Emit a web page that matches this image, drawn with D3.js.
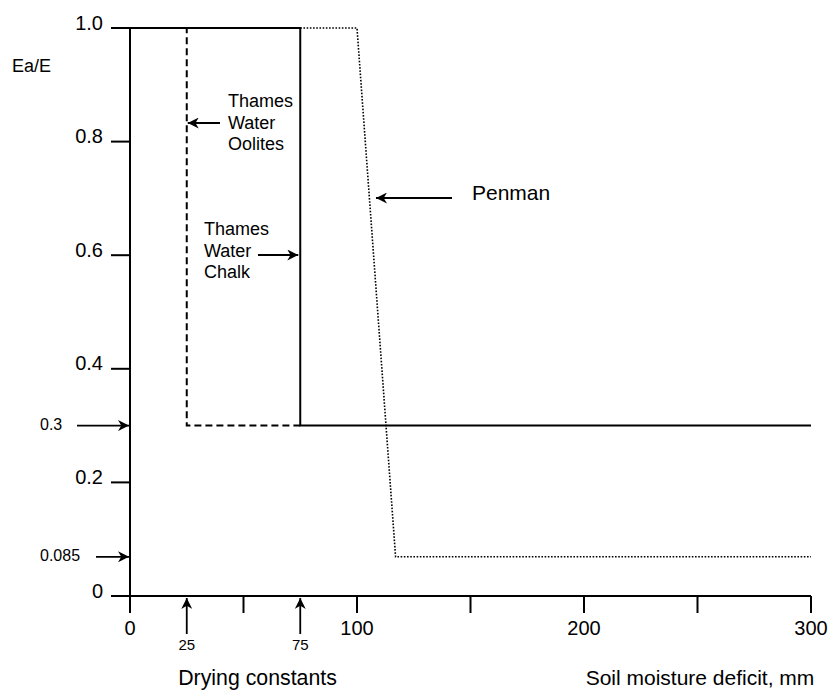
<!DOCTYPE html>
<html><head><meta charset="utf-8">
<script src="https://cdn.jsdelivr.net/npm/d3@7"></script>
<style>body{margin:0;background:#fff}text{font-family:Arial,"Liberation Sans",sans-serif;fill:#000}</style>
</head><body><svg id="c" width="832" height="696"></svg>
<script>
// ---- data ----
const yTicks = [0, 0.2, 0.4, 0.6, 0.8, 1.0];
const yTickLabels = ["0", "0.2", "0.4", "0.6", "0.8", "1.0"];
const xTicks = [0, 50, 100, 150, 200, 250, 300];
const xTickLabels = ["0", "100", "200", "300"];
const xLabelValues = [0, 100, 200, 300];
const dryingConstants = [25, 75];
const dryingLabels = ["25", "75"];
const yMarkers = [0.3, 0.069];
const yMarkerLabels = ["0.3", "0.085"];
const chalkX = [0, 75, 75, 300];
const chalkY = [1.0, 1.0, 0.3, 0.3];
const oolitesX = [0, 25, 25, 75];
const oolitesY = [1.0, 1.0, 0.3, 0.3];
const penmanX = [75, 100, 117, 300];
const penmanY = [1.0, 1.0, 0.069, 0.069];

const svg = d3.select("#c");
const x = d3.scaleLinear().domain([0, 300]).range([130, 811]);
const y = d3.scaleLinear().domain([0, 1]).range([596, 28]);
const line = d3.line().x(d => x(d[0])).y(d => y(d[1]));

// axes lines
svg.append("line").attr("x1", x(0)).attr("x2", x(0)).attr("y1", y(1)).attr("y2", 613).attr("stroke", "#000").attr("stroke-width", 2);
svg.append("line").attr("x1", 112).attr("x2", x(300)).attr("y1", y(0)).attr("y2", y(0)).attr("stroke", "#000").attr("stroke-width", 2);

// y ticks
svg.selectAll(".yt").data(yTicks).join("line")
  .attr("x1", 111).attr("x2", x(0)).attr("y1", d => y(d)).attr("y2", d => y(d))
  .attr("stroke", "#000").attr("stroke-width", 2);
svg.selectAll(".yl").data(yTicks).join("text")
  .attr("x", 103).attr("y", d => y(d) + 1.5).attr("text-anchor", "end")
  .attr("font-size", 20).text((d, i) => yTickLabels[i]);

// x ticks
svg.selectAll(".xt").data(xTicks.filter(d => d > 0)).join("line")
  .attr("x1", d => x(d)).attr("x2", d => x(d)).attr("y1", y(0)).attr("y2", 613)
  .attr("stroke", "#000").attr("stroke-width", 2);
svg.selectAll(".xl").data(xLabelValues).join("text")
  .attr("x", d => x(d)).attr("y", 635).attr("text-anchor", "middle")
  .attr("font-size", 20).text((d, i) => xTickLabels[i]);

// arrow marker
const defs = svg.append("defs");
defs.append("marker").attr("id", "ah").attr("viewBox", "0 0 10 10").attr("refX", 10).attr("refY", 5)
  .attr("markerWidth", 13).attr("markerHeight", 11).attr("markerUnits", "userSpaceOnUse").attr("orient", "auto")
  .append("path").attr("d", "M0,0 L10,5 L0,10 L3,5 Z").attr("fill", "#000");

function arrow(x1, y1, x2, y2) {
  svg.append("line").attr("x1", x1).attr("y1", y1).attr("x2", x2).attr("y2", y2)
    .attr("stroke", "#000").attr("stroke-width", 1.8).attr("marker-end", "url(#ah)");
}

// drying constant arrows
dryingConstants.forEach((d, i) => {
  arrow(x(d), 634, x(d), y(0) + 2);
  svg.append("text").attr("x", x(d)).attr("y", 650).attr("text-anchor", "middle").attr("font-size", 15).text(dryingLabels[i]);
});
// y markers
yMarkers.forEach((d, i) => {
  arrow(i === 0 ? 77 : 96, y(d), x(0) - 1, y(d));
  svg.append("text").attr("x", 40).attr("y", y(d) + 4.5).attr("font-size", 16).text(yMarkerLabels[i]);
});

// series
const zip = (a, b) => a.map((v, i) => [v, b[i]]);
svg.append("path").attr("d", line(zip(penmanX, penmanY))).attr("fill", "none").attr("stroke", "#000")
  .attr("stroke-width", 1.6).attr("stroke-dasharray", "1.6,1.6");
svg.append("path").attr("d", line(zip(oolitesX, oolitesY))).attr("fill", "none").attr("stroke", "#000")
  .attr("stroke-width", 2).attr("stroke-dasharray", "7,4");
svg.append("path").attr("d", line(zip(chalkX, chalkY))).attr("fill", "none").attr("stroke", "#000")
  .attr("stroke-width", 2);

// annotations
svg.append("text").attr("x", 12).attr("y", 72).attr("font-size", 18).text("Ea/E");
function block(xp, yp, lines) {
  lines.forEach((t, i) => svg.append("text").attr("x", xp).attr("y", yp + i * 21.6).attr("font-size", 18).text(t));
}
block(228, 107, ["Thames", "Water", "Oolites"]);
arrow(220, 123, x(25) + 1, 123);
block(204, 235, ["Thames", "Water", "Chalk"]);
arrow(258, 255, x(75) - 2, 255);
svg.append("text").attr("x", 472).attr("y", 200).attr("font-size", 21).text("Penman");
arrow(452, 198, 376, 198);

svg.append("text").attr("x", 257.5).attr("y", 685).attr("text-anchor", "middle").attr("font-size", 21.3).text("Drying constants");
svg.append("text").attr("x", 700).attr("y", 685).attr("text-anchor", "middle").attr("font-size", 21).text("Soil moisture deficit, mm");
</script></body></html>
